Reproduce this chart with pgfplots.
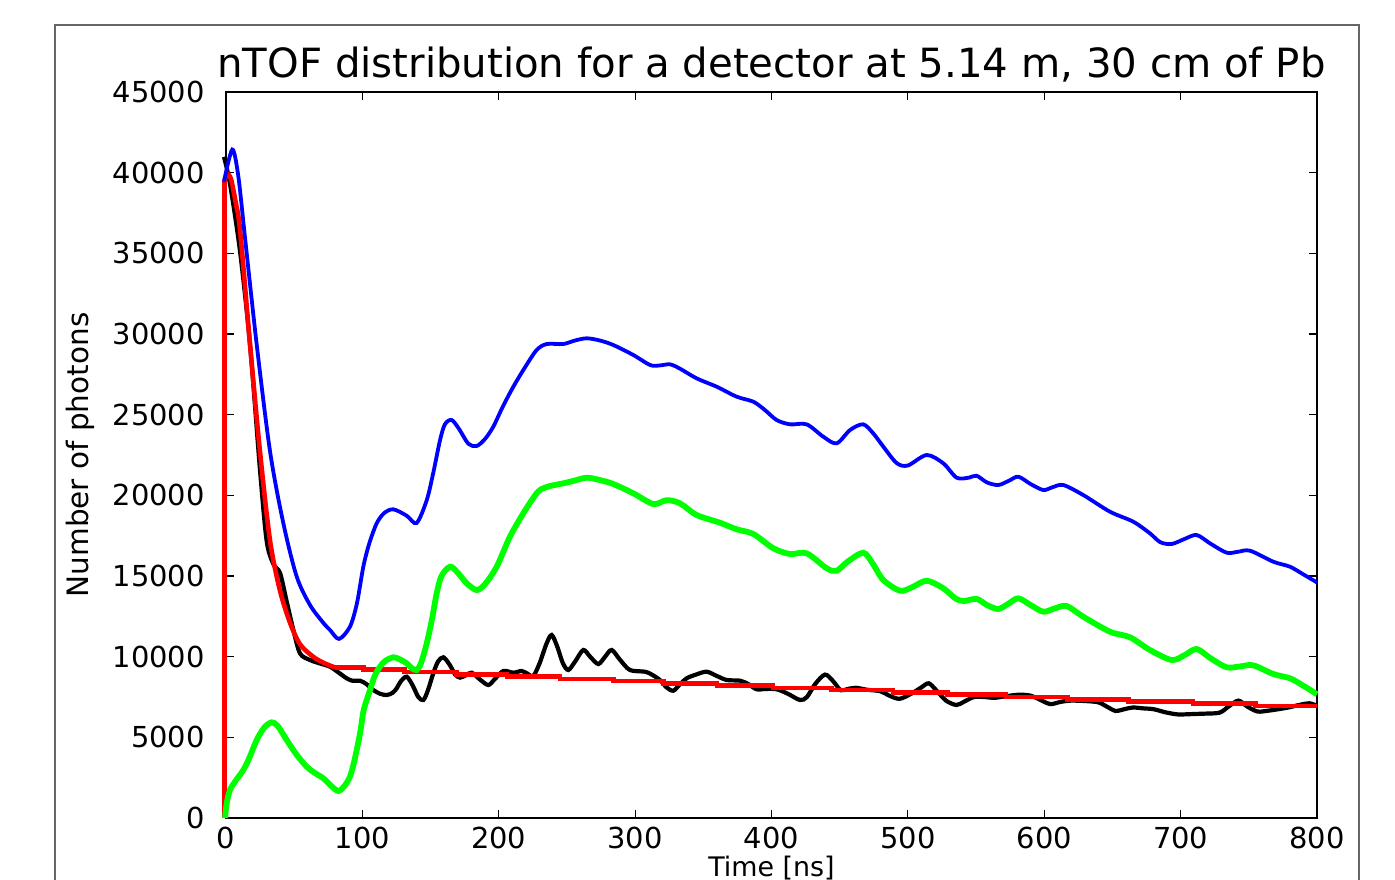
\documentclass[border=0pt]{standalone}
\usepackage{fontspec}
\setmainfont{DejaVu Sans}
\usepackage{pgfplots}
\pgfplotsset{compat=1.18}
\begin{document}
\begin{tikzpicture}
\path[use as bounding box] (-113bp,-31bp) rectangle (584.5bp,409bp);
\clip (-113bp,-31bp) rectangle (584.5bp,409bp);
\fill[white] (-113bp,-31bp) rectangle (584.5bp,409bp);
\draw[black!60, line width=0.6bp] (-85.5bp,-80bp) rectangle (566.5bp,396.5bp);
\begin{axis}[
  at={(0,0)}, anchor=south west,
  scale only axis, width=545.5bp, height=363bp,
  xmin=0, xmax=800, ymin=0, ymax=45000,
  clip=false,
  axis line style={line width=1bp},
  tick style={black, line width=0.6bp},
  major tick length=4bp,
  tick align=inside,
  xtick={0,100,...,800}, ytick={0,5000,...,45000},
  scaled ticks=false,
  /pgf/number format/1000 sep={},
  /pgf/number format/assume math mode=true,
  ticklabel style={font=\fontsize{14.5}{14.5}\selectfont},
  xticklabel style={anchor=north, inner sep=0pt, yshift=-4.5bp},
  yticklabel style={anchor=east, inner sep=0pt, xshift=-10.5bp},
  every axis title shift=0pt,
  title={nTOF distribution for a detector at 5.14 m, 30 cm of Pb},
  title style={at={(0.5,1)}, anchor=base, yshift=7.5bp, inner sep=0pt, font=\fontsize{20.2}{20.2}\selectfont},
  xlabel={Time [ns]},
  xlabel style={at={(axis description cs:0.5,0)}, anchor=north, yshift=-18.7bp, inner sep=0pt, font=\fontsize{13.5}{13.5}\selectfont},
  ylabel={Number of photons},
  ylabel style={at={(axis description cs:-0.1338,0.5)}, anchor=center, inner sep=0pt, font=\fontsize{14.8}{14.8}\selectfont},
]
% black
\addplot[black, line width=2.1bp, smooth, tension=0.5] coordinates {
(-1.5,40980) (2.9,39320) (10.3,35118) (17.6,29360) (24.9,21613) (29.8,17187) (34.7,15749) (39.6,15191) (44.5,13425) (49.4,11652) (54.3,10200) (61.6,9793) (70,9550) (76.3,9378) (82,9050) (88.5,8659) (93,8500) (98.3,8510) (103,8300) (108,7933) (113,7700) (117.8,7624) (122,7750) (125.2,8039) (128,8450) (132.5,8758) (137,8200) (141,7500) (144.7,7314) (148,7900) (152,8969) (155.5,9700) (159.4,9960) (164,9500) (168,8900) (171.6,8700) (176,8850) (180.2,9006) (186,8600) (192.3,8243) (197,8600) (203.3,9111) (210.7,9006) (216.8,9111) (221,8950) (225.3,8801) (230,9600) (235,10800) (238.8,11342) (243,10600) (247,9600) (251,9173) (256,9700) (262,10413) (267,10000) (273,9545) (278,10000) (282.8,10413) (289,9800) (296.2,9173) (307.2,9068) (312,8900) (318.2,8553) (323,8100) (328,7891) (333,8300) (337.8,8659) (345,8900) (352.5,9068) (360,8800) (367.2,8553) (377,8510) (383,8300) (389.1,7977) (396,8000) (403.8,7977) (412,7700) (420.9,7314) (426,7500) (432,8300) (439.2,8888) (445,8500) (450.7,7923) (456,8000) (462,8070) (470,7950) (479.8,7859) (486,7600) (493.8,7388) (502.6,7710) (510,8100) (515.3,8349) (521,7900) (528,7276) (535.6,7004) (541,7200) (548.3,7494) (556,7500) (563.5,7450) (572,7550) (581.3,7642) (589,7600) (594,7450) (604.1,7066) (612,7200) (619.4,7276) (630,7250) (639.6,7171) (646,6900) (652.3,6638) (659,6750) (665,6849) (672,6800) (680.2,6743) (689,6550) (698,6421) (708,6440) (715.7,6464) (728.4,6526) (735,6900) (742.4,7276) (749,6900) (756.4,6600) (764,6650) (771.6,6743) (779,6850) (786.8,7004) (794.5,7109) (800,6950)
};
% red
\addplot[red, line width=2.3bp] coordinates {(-1.2,0) (-1.2,39500)};
\addplot[red, line width=2.3bp, smooth, tension=0.5] coordinates {
(-1.2,39500) (0.5,39850) (2,39880) (4,39500) (7,38200) (10.3,36444) (17.6,29360) (24.9,22722) (32.3,17187) (39.6,14088) (47,12092) (54.3,10766) (64,9991) (72,9600) (80,9330)
};
\addplot[red, line width=2.3bp] coordinates {
(80,9330) (101,9330) (101,9190) (131,9190) (131,9049) (169,9049) (169,8909) (206,8909) (206,8768) (245,8768) (245,8628) (284,8628) (284,8487) (321,8487) (321,8347) (360,8347) (360,8206) (401,8206) (401,8066) (444,8066) (444,7925) (489,7925) (489,7785) (529,7785) (529,7644) (572,7644) (572,7504) (617,7504) (617,7363) (662,7363) (662,7223) (709,7223) (709,7082) (755,7082) (755,6942) (800,6942)
};
% blue
\addplot[blue, line width=1.9bp, smooth, tension=0.5] coordinates {
(-1.5,39430) (4.6,41430) (9,39800) (13.9,36004) (22.5,29360) (32.3,22722) (42,18290) (51.8,14975) (61.6,13202) (71.4,12092) (76.3,11652) (82.9,11100) (90.9,11857) (96,13300) (100.7,15576) (105,17000) (110.5,18265) (116,18900) (122.7,19133) (132.5,18737) (139.8,18290) (147.2,19700) (152,21400) (156.9,23400) (160.5,24400) (165.5,24668) (171,24100) (177.7,23200) (183.8,23057) (190,23500) (196,24255) (203,25500) (210.7,26733) (219,27900) (227.8,29007) (235.2,29379) (247.3,29379) (256,29600) (264.5,29733) (274,29600) (284,29317) (298.7,28697) (311,28077) (318,28050) (325.6,28119) (332.9,27850) (345.1,27252) (359.8,26733) (374.5,26113) (386.7,25803) (395,25300) (403.8,24668) (413.6,24400) (425.8,24400) (438,23633) (447.8,23224) (457.6,24048) (467.3,24400) (475,23800) (482,23017) (491.8,22000) (500,21850) (513.8,22499) (526,21985) (535.8,21092) (545,21100) (550.4,21216) (558,20800) (566.3,20639) (574,20900) (581,21154) (590,20700) (599.3,20329) (606,20500) (614,20639) (628.6,20019) (648.2,18985) (665.3,18365) (677.5,17646) (685,17100) (693.4,16982) (703,17300) (711.8,17540) (722,17000) (733.8,16443) (742,16500) (750.9,16567) (768,15885) (780.2,15576) (790,15100) (800,14600)
};
% green
\addplot[green, line width=2.9bp, smooth, tension=0.5] coordinates {
(-0.7,0) (0.5,900) (2.9,1735) (7,2300) (12.7,2975) (17,3700) (22.5,4834) (28,5600) (33.5,5931) (38,5700) (44.5,4834) (52,3900) (59.2,3180) (65,2800) (71.4,2459) (77,2000) (82.4,1673) (87,2000) (90.9,2562) (94,3500) (98.3,5250) (101,6700) (105.6,7933) (109,8800) (112.9,9378) (117,9750) (122.7,9960) (127,9850) (132.5,9589) (136,9300) (139.8,9173) (143,9600) (147.2,10828) (151,12300) (154.5,13927) (158,15000) (164.3,15576) (170,15200) (176.5,14547) (183.8,14131) (190,14500) (198.5,15576) (208.2,17435) (218,18885) (225,19800) (230.2,20329) (237.6,20577) (247.3,20745) (255,20900) (264.5,21092) (274,20950) (284,20701) (298.7,20125) (313.3,19462) (323.1,19700) (332.9,19505) (345.1,18780) (362.2,18303) (374.5,17894) (386.7,17602) (401.4,16716) (413.6,16363) (425.8,16406) (440.5,15476) (447.8,15328) (456,15900) (467.3,16443) (474,15800) (482,14751) (494.2,14088) (503,14300) (513.8,14708) (526,14237) (535,13600) (541,13450) (550.4,13580) (558,13200) (566.3,12954) (574,13300) (581,13617) (590,13200) (599.3,12787) (608,13000) (616.5,13140) (628.6,12477) (648.2,11547) (662.9,11200) (677.5,10413) (693.4,9793) (703,10100) (711.8,10475) (722,9900) (733.8,9340) (744,9400) (753.2,9464) (768,8925) (780.2,8659) (790,8200) (800,7667)
};
\end{axis}
\end{tikzpicture}
\end{document}
